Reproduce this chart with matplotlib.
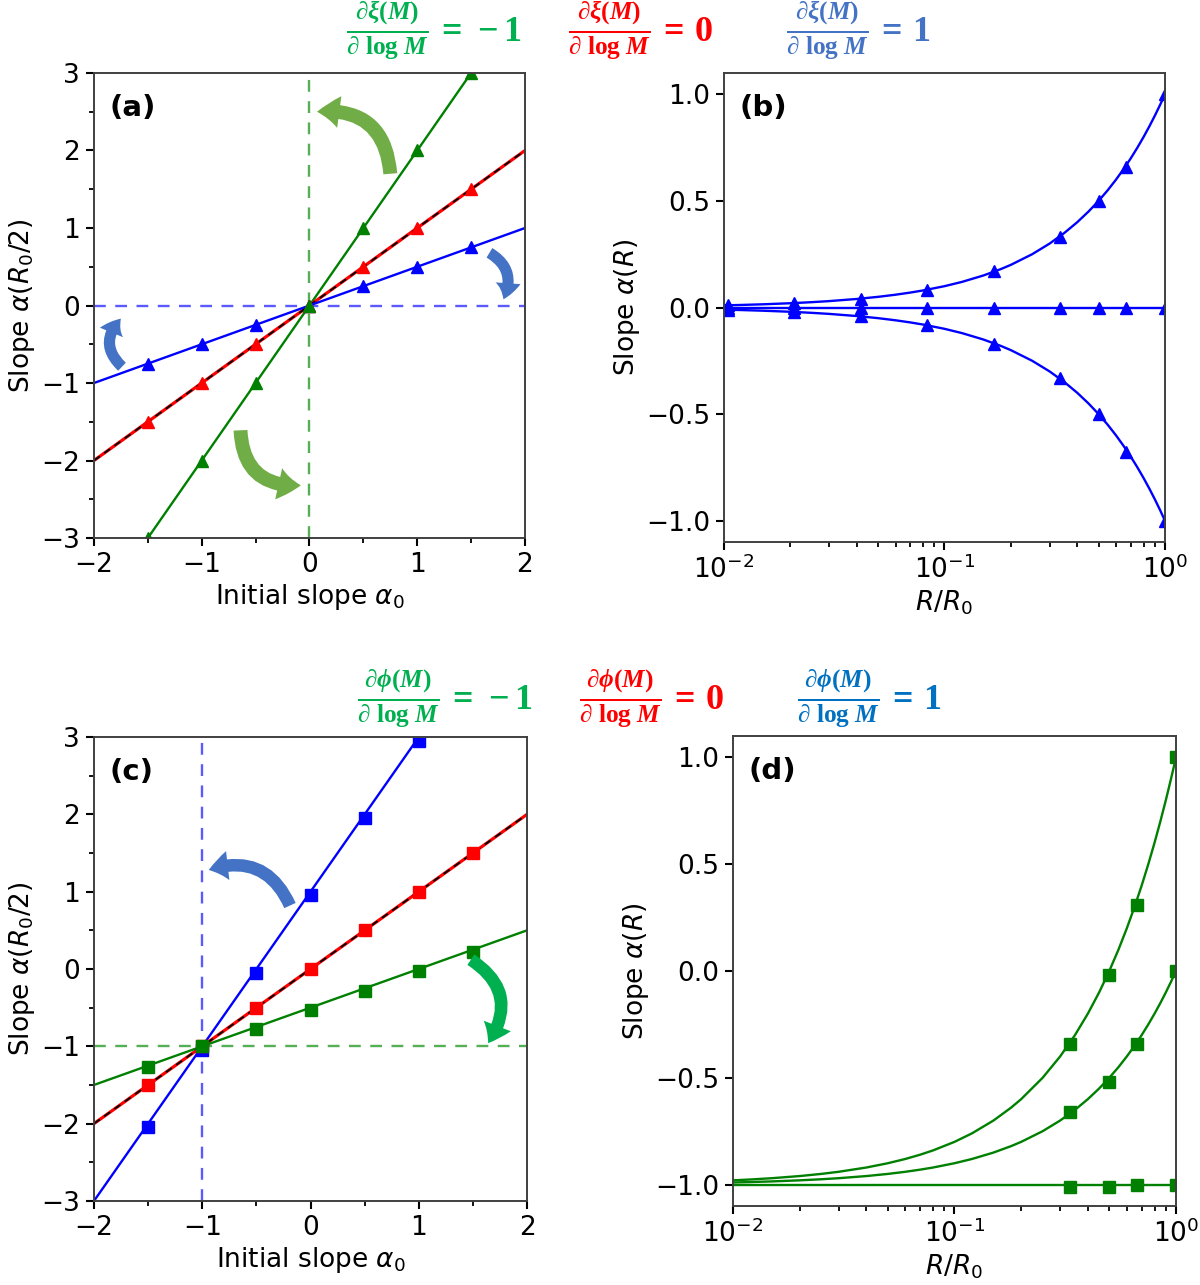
import numpy as np
import matplotlib
matplotlib.use("Agg")
import matplotlib.pyplot as plt
from matplotlib.patches import FancyArrowPatch
from matplotlib.ticker import MultipleLocator

# ---------------- data ----------------
# Panel (a): alpha(R0/2) vs alpha0 (triangles)
a_x = [-1.5, -1.0, -0.5, 0.0, 0.5, 1.0, 1.5]
a_green = [-3.0, -2.0, -1.0, 0.0, 1.0, 2.0, 3.0]
a_red = [-1.5, -1.0, -0.5, 0.0, 0.5, 1.0, 1.5]
a_blue = [-0.75, -0.5, -0.25, 0.0, 0.25, 0.5, 0.75]
a_line_x = [-2.0, 2.0]
a_line_green = [-4.0, 4.0]
a_line_red = [-2.0, 2.0]
a_line_blue = [-1.0, 1.0]

# Panel (b): alpha(R) vs R/R0 (triangles)
b_R = [0.0104, 0.0208, 0.0417, 0.0833, 0.167, 0.333, 0.5, 0.667, 1.0]
b_up = [0.01, 0.02, 0.04, 0.08, 0.17, 0.33, 0.50, 0.66, 1.0]
b_flat = [0.0, 0.0, 0.0, 0.0, 0.0, 0.0, 0.0, 0.0, 0.0]
b_down = [-0.01, -0.02, -0.04, -0.08, -0.17, -0.33, -0.50, -0.68, -1.0]
curve_R = [0.01, 0.012, 0.015, 0.02, 0.025, 0.03, 0.04, 0.05, 0.06, 0.07, 0.08,
           0.10, 0.12, 0.15, 0.18, 0.20, 0.25, 0.30, 0.35, 0.40, 0.45, 0.50,
           0.55, 0.60, 0.65, 0.70, 0.75, 0.80, 0.85, 0.90, 0.95, 1.0]
b_curve_up = [0.01, 0.012, 0.015, 0.02, 0.025, 0.03, 0.04, 0.05, 0.06, 0.07, 0.08,
              0.10, 0.12, 0.15, 0.18, 0.20, 0.25, 0.30, 0.35, 0.40, 0.45, 0.50,
              0.55, 0.60, 0.65, 0.70, 0.75, 0.80, 0.85, 0.90, 0.95, 1.0]
b_curve_flat = [0.0] * 32
b_curve_down = [-0.01, -0.012, -0.015, -0.02, -0.025, -0.03, -0.04, -0.05, -0.06, -0.07, -0.08,
                -0.10, -0.12, -0.15, -0.18, -0.20, -0.25, -0.30, -0.35, -0.40, -0.45, -0.50,
                -0.55, -0.60, -0.65, -0.70, -0.75, -0.80, -0.85, -0.90, -0.95, -1.0]

# Panel (c): alpha(R0/2) vs alpha0 (squares)
c_x = [-1.5, -1.0, -0.5, 0.0, 0.5, 1.0, 1.5]
c_blue_x = [-1.5, -1.0, -0.5, 0.0, 0.5, 1.0]
c_blue = [-2.05, -1.05, -0.05, 0.95, 1.95, 2.95]
c_red = [-1.5, -1.0, -0.5, 0.0, 0.5, 1.0, 1.5]
c_green = [-1.27, -1.0, -0.77, -0.53, -0.28, -0.03, 0.22]
c_line_x = [-2.0, 2.0]
c_line_blue_x = [-2.0, 1.5]
c_line_blue = [-3.0, 4.0]
c_line_red = [-2.0, 2.0]
c_line_green = [-1.5, 0.5]

# Panel (d): alpha(R) vs R/R0 (squares)
d_R = [0.333, 0.5, 0.667, 1.0]
d_top = [-0.34, -0.02, 0.31, 1.0]
d_mid = [-0.66, -0.52, -0.34, 0.0]
d_bot = [-1.01, -1.01, -1.0, -1.0]
d_curve_top = [-0.98, -0.976, -0.97, -0.96, -0.95, -0.94, -0.92, -0.90, -0.88, -0.86, -0.84,
               -0.80, -0.76, -0.70, -0.64, -0.60, -0.50, -0.40, -0.30, -0.20, -0.10, 0.0,
               0.10, 0.20, 0.30, 0.40, 0.50, 0.60, 0.70, 0.80, 0.90, 1.0]
d_curve_mid = [-0.99, -0.988, -0.985, -0.98, -0.975, -0.97, -0.96, -0.95, -0.94, -0.93, -0.92,
               -0.90, -0.88, -0.85, -0.82, -0.80, -0.75, -0.70, -0.65, -0.60, -0.55, -0.50,
               -0.45, -0.40, -0.35, -0.30, -0.25, -0.20, -0.15, -0.10, -0.05, 0.0]
d_curve_bot = [-1.0] * 32

# ---------------- styling ----------------
BLUE = "#0000ff"
RED = "#ff0000"
GREEN = "#008000"
FS = 19

plt.rcParams["mathtext.fontset"] = "dejavusans"
plt.rcParams["mathtext.rm"] = "Liberation Serif:bold"
plt.rcParams["mathtext.it"] = "Liberation Serif:italic:bold"
plt.rcParams["mathtext.bf"] = "Liberation Serif:bold"
plt.rcParams["mathtext.sf"] = "Liberation Serif:bold"

fig = plt.figure(figsize=(12, 12.85), dpi=100)

axa = fig.add_axes([0.0783, 0.5813, 0.3592, 0.3619])
axb = fig.add_axes([0.6033, 0.5782, 0.3675, 0.3650])
axc = fig.add_axes([0.0783, 0.0654, 0.3610, 0.3611])
axd = fig.add_axes([0.6108, 0.0615, 0.3692, 0.3658])

for ax in (axa, axb, axc, axd):
    for s in ax.spines.values():
        s.set_color("#404040")
        s.set_linewidth(1.4)
    ax.tick_params(labelsize=FS, length=6, width=1.5, pad=4)
    ax.tick_params(which="minor", length=3.5, width=1.3)

def linear_panel(ax, label):
    ax.set_xlim(-2, 2)
    ax.set_ylim(-3, 3)
    ax.xaxis.set_major_locator(MultipleLocator(1))
    ax.xaxis.set_minor_locator(MultipleLocator(0.5))
    ax.yaxis.set_major_locator(MultipleLocator(1))
    ax.yaxis.set_minor_locator(MultipleLocator(0.5))
    ax.set_xlabel(r"Initial slope $\alpha_0$", fontsize=FS, labelpad=3)
    ax.set_ylabel(r"Slope $\alpha(R_0/2)$", fontsize=FS, labelpad=3)
    ax.text(0.035, 0.925, label, transform=ax.transAxes, fontsize=21,
            fontweight="bold", ha="left", va="center")

def log_panel(ax, label):
    ax.set_xscale("log")
    ax.set_xlim(0.01, 1.0)
    ax.set_ylim(-1.1, 1.1)
    ax.yaxis.set_major_locator(MultipleLocator(0.5))
    ax.set_xlabel(r"$R/R_0$", fontsize=FS, labelpad=3)
    ax.set_ylabel(r"Slope $\alpha(R)$", fontsize=FS, labelpad=3)
    ax.text(0.035, 0.925, label, transform=ax.transAxes, fontsize=21,
            fontweight="bold", ha="left", va="center")

def arrow(ax, a, b, rad, color, tw, hw, hl):
    p = FancyArrowPatch(a, b, connectionstyle=f"arc3,rad={rad}",
                        arrowstyle=f"simple,tail_width={tw},head_width={hw},head_length={hl}",
                        color=color, shrinkA=0, shrinkB=0, zorder=6, lw=0)
    ax.add_patch(p)

# ---- (a)
linear_panel(axa, "(a)")
axa.axhline(0, color="#5a5aff", lw=1.7, ls=(0, (5, 4)))
axa.axvline(0, color="#55b055", lw=1.7, ls=(0, (5, 4)))
axa.plot(a_line_x, a_line_green, color=GREEN, lw=1.7)
axa.plot(a_line_x, a_line_red, color=RED, lw=2.3)
axa.plot(a_line_x, a_line_red, color="black", lw=1.3, ls=(0, (4, 3)))
axa.plot(a_line_x, a_line_blue, color=BLUE, lw=1.7)
axa.plot(a_x, a_blue, "^", color=BLUE, ms=9, ls="none")
axa.plot(a_x, a_red, "^", color=RED, ms=9, ls="none")
axa.plot(a_x, a_green, "^", color=GREEN, ms=9, ls="none")
arrow(axa, (0.75, 1.70), (0.07, 2.50), 0.5, "#70ad47", 10, 23, 16)
arrow(axa, (-0.64, -1.61), (-0.08, -2.32), 0.5, "#70ad47", 10, 23, 16)
arrow(axa, (1.67, 0.68), (1.80, 0.08), -0.45, "#4472c4", 8, 18, 12)
arrow(axa, (-1.74, -0.79), (-1.75, -0.17), -0.5, "#4472c4", 8, 18, 12)

# ---- (b)
log_panel(axb, "(b)")
for cv in (b_curve_up, b_curve_flat, b_curve_down):
    axb.plot(curve_R, cv, color=BLUE, lw=1.7)
for mv in (b_up, b_flat, b_down):
    axb.plot(b_R, mv, "^", color=BLUE, ms=9, ls="none")

# ---- (c)
linear_panel(axc, "(c)")
axc.axhline(-1, color="#55b055", lw=1.7, ls=(0, (5, 4)))
axc.axvline(-1, color="#5a5aff", lw=1.7, ls=(0, (5, 4)))
axc.plot(c_line_blue_x, c_line_blue, color=BLUE, lw=1.7)
axc.plot(c_line_x, c_line_red, color=RED, lw=2.3)
axc.plot(c_line_x, c_line_red, color="black", lw=1.3, ls=(0, (4, 3)))
axc.plot(c_line_x, c_line_green, color=GREEN, lw=1.7)
axc.plot(c_blue_x, c_blue, "s", color=BLUE, ms=9, ls="none")
axc.plot(c_x, c_red, "s", color=RED, ms=9, ls="none")
axc.plot(c_x, c_green, "s", color=GREEN, ms=9, ls="none")
arrow(axc, (-0.19, 0.82), (-0.94, 1.28), 0.45, "#4472c4", 9, 21, 14)
arrow(axc, (1.48, 0.12), (1.64, -0.96), -0.5, "#00b050", 9, 21, 14)

# ---- (d)
log_panel(axd, "(d)")
for cv in (d_curve_top, d_curve_mid, d_curve_bot):
    axd.plot(curve_R, cv, color=GREEN, lw=1.7)
for mv in (d_top, d_mid, d_bot):
    axd.plot(d_R, mv, "s", color=GREEN, ms=9, ls="none")

# ---- headers
frac_xi = r"\frac{\partial\xi(M)}{\partial\ \mathrm{log}\ M}"
frac_phi = r"\frac{\partial\phi(M)}{\partial\ \mathrm{log}\ M}"
hdr1 = [(434, 30, "$" + frac_xi + r"\,=\,-1$", "#00b050"),
        (640, 30, "$" + frac_xi + r"\,=\,0$", "#ff0000"),
        (858, 30, "$" + frac_xi + r"\,=\,1$", "#4472c4")]
hdr2 = [(445, 698, "$" + frac_phi + r"\,=\,-1$", "#00b050"),
        (651, 698, "$" + frac_phi + r"\,=\,0$", "#ff0000"),
        (869, 698, "$" + frac_phi + r"\,=\,1$", "#0070c0")]
for x, y, t, c in hdr1 + hdr2:
    fig.text(x / 1200, 1 - y / 1285, t, color=c, fontsize=26, ha="center",
             va="center", math_fontfamily="custom")

fig.savefig("out.png", dpi=100)
